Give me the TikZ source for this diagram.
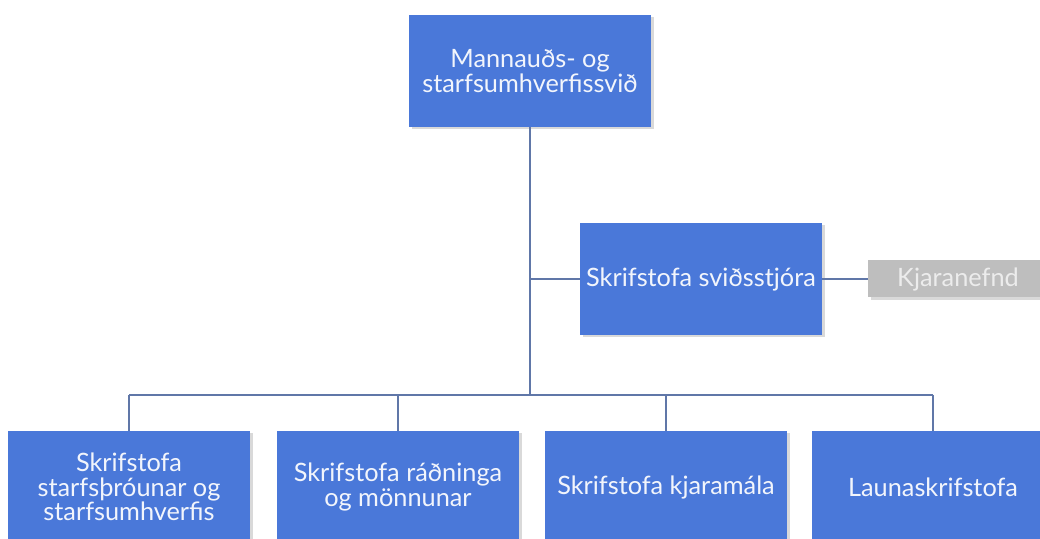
\documentclass[tikz,border=0pt]{standalone}
\usepackage{fontspec}
\setmainfont{Lato}
\usetikzlibrary{shadows}
\definecolor{boxblue}{HTML}{4A78D9}
\definecolor{linkgray}{HTML}{6077A8}
\definecolor{sidegray}{HTML}{BEBEBE}
\definecolor{boxtext}{HTML}{F2F5FC}
\definecolor{sidetext}{HTML}{ECECEC}

\begin{document}
\begin{tikzpicture}[
    unit/.style={rectangle, fill=boxblue, text=boxtext, minimum width=4.84cm, minimum height=2.24cm,
        align=center, inner sep=0pt, font=\fontsize{14.4}{14}\selectfont,
        drop shadow={shadow xshift=0.05cm, shadow yshift=-0.05cm, opacity=0.3}},
    side/.style={rectangle, fill=sidegray, text=sidetext, minimum width=3.6cm, minimum height=0.74cm,
        inner sep=0pt, font=\fontsize{14.4}{14}\selectfont,
        drop shadow={shadow xshift=0.05cm, shadow yshift=-0.05cm, opacity=0.3}},
    link/.style={draw=linkgray, line width=1.1pt}
]
    \useasboundingbox (0,0) rectangle (20.8,10.78);

    % Draw the boxes
    \node[unit] (svid) at (10.6,9.36) {Mannauðs- og\\starfsumhverfissvið};
    \node[unit] (stjori) at (14.02,5.2) {Skrifstofa sviðsstjóra};
    \node[side] (kjaranefnd) at (19.16,5.2) {Kjaranefnd};
    \node[unit] (throun) at (2.58,1.04) {Skrifstofa\\starfsþróunar og\\starfsumhverfis};
    \node[unit] (radning) at (7.96,1.04) {Skrifstofa ráðninga\\og mönnunar};
    \node[unit] (kjaramal) at (13.32,1.04) {Skrifstofa kjaramála};
    \node[unit] (laun) at (18.66,1.04) {Launaskrifstofa};
    \coordinate (bus) at (10.6,2.88);

    % Draw the links
    \draw[link] (svid.south) -- (bus);
    \draw[link] (svid.south |- stjori.west) -- (stjori.west);
    \draw[link] (stjori.east) -- (kjaranefnd.west);
    \draw[link] (throun.north |- bus) -- (laun.north |- bus);
    \foreach \n in {throun,radning,kjaramal,laun}
        \draw[link] (\n.north |- bus) -- (\n.north);
\end{tikzpicture}
\end{document}
